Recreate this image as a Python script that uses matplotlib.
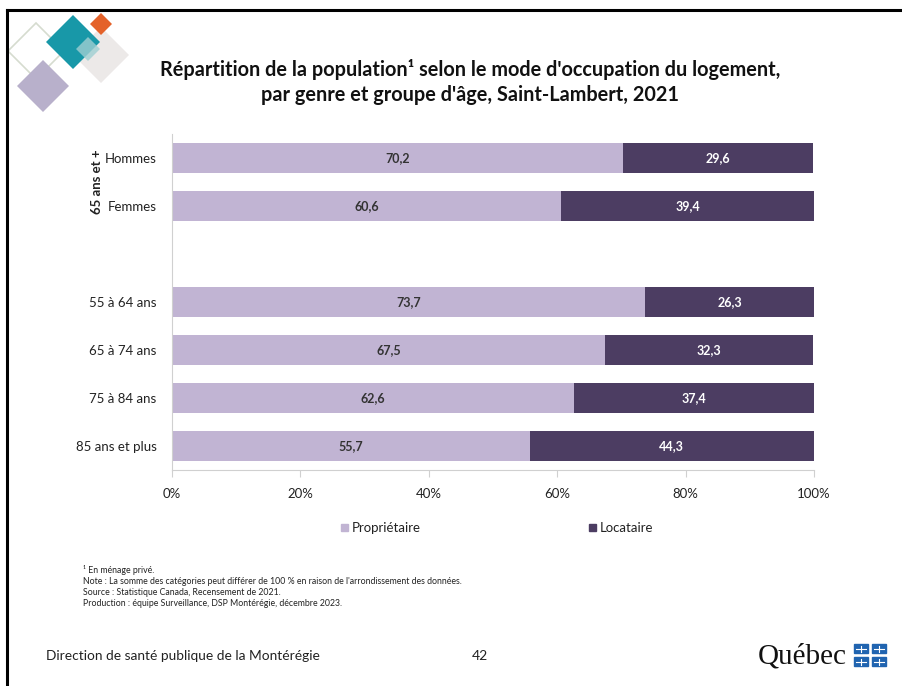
import numpy as np
import matplotlib
matplotlib.use("Agg")
import matplotlib.pyplot as plt
from matplotlib.patches import Polygon, Rectangle

plt.rcParams['font.family'] = ['Lato', 'DejaVu Sans']

# ------------------------------------------------------------------
# Data (top to bottom, blank slot between the two groups)
# ------------------------------------------------------------------
categories = ["Hommes", "Femmes", "", "55 à 64 ans", "65 à 74 ans", "75 à 84 ans", "85 ans et plus"]
proprietaire = [70.2, 60.6, np.nan, 73.7, 67.5, 62.6, 55.7]
locataire = [29.6, 39.4, np.nan, 26.3, 32.3, 37.4, 44.3]
xticks = [0, 20, 40, 60, 80, 100]
xtick_labels = ["0%", "20%", "40%", "60%", "80%", "100%"]

c_prop = "#C1B4D3"
c_loc = "#4C3D62"
grid_c = "#D0D0D0"

W, H = 902, 686
fig = plt.figure(figsize=(W / 100, H / 100), dpi=100)

# background layer in pixel coords
bg = fig.add_axes([0, 0, 1, 1])
bg.set_xlim(0, W)
bg.set_ylim(H, 0)
bg.axis("off")

# slide frame
bg.plot([7, 7], [10, H], color="black", lw=2.2)
bg.plot([7, W], [10, 10], color="black", lw=2.2)


def diamond(cx, cy, r, fc, ec="none", alpha=1.0, lw=0):
    bg.add_patch(Polygon([(cx, cy - r), (cx + r, cy), (cx, cy + r), (cx - r, cy)],
                         closed=True, fc=fc, ec=ec, alpha=alpha, lw=lw))


# logo diamonds
diamond(36, 51, 28, "none", ec="#D6DCCF", lw=1.2)
diamond(101, 55, 28, "#ECE9E8")
diamond(73, 42, 27, "#1898A8")
diamond(101, 24, 11, "#E4622A")
diamond(88, 49, 12, "#9FCFD2", alpha=0.8)
diamond(43, 86, 26, "#B8B0CB")

# title
fig.text(470 / W, 1 - 70 / H, "Répartition de la population¹ selon le mode d'occupation du logement,",
         ha="center", va="center", fontsize=14.3, fontweight="bold", color="#111111")
fig.text(470 / W, 1 - 95 / H, "par genre et groupe d'âge, Saint-Lambert, 2021",
         ha="center", va="center", fontsize=14.3, fontweight="bold", color="#111111")

# ------------------------------------------------------------------
# Chart
# ------------------------------------------------------------------
ax = fig.add_axes([172 / W, 1 - 470 / H, 642 / W, 336 / H])
y = np.arange(len(categories))
prop = np.array(proprietaire)
loc = np.array(locataire)
ax.barh(y, prop, height=0.62, color=c_prop)
ax.barh(y, loc, left=prop, height=0.62, color=c_loc)

for yi, p, l in zip(y, prop, loc):
    if np.isnan(p):
        continue
    ax.text(p / 2, yi, f"{p:.1f}".replace(".", ","), ha="center", va="center",
            fontsize=9, color="#333333", fontweight="bold")
    ax.text(p + l / 2, yi, f"{l:.1f}".replace(".", ","), ha="center", va="center",
            fontsize=9, color="white", fontweight="bold")

ax.set_xlim(0, 100)
ax.set_ylim(len(categories) - 0.5, -0.5)
ax.set_xticks(xticks)
ax.set_xticklabels(xtick_labels, fontsize=9.5, color="#222222")
ax.set_yticks(y)
ax.set_yticklabels(categories, fontsize=9.5, color="#222222")
ax.tick_params(axis="y", length=0, pad=11)
ax.tick_params(axis="x", length=5, color=grid_c, pad=8)
for s in ["top", "right"]:
    ax.spines[s].set_visible(False)
ax.spines["left"].set_color(grid_c)
ax.spines["bottom"].set_color(grid_c)

# group label
fig.text(97 / W, 1 - 182 / H, "65 ans et +", rotation=90, ha="center", va="center",
         fontsize=9.5, fontweight="bold", color="#222222")

# legend
bg.add_patch(Rectangle((341, 524), 7, 7, color=c_prop))
bg.text(352, 528, "Propriétaire", ha="left", va="center", fontsize=9.5, color="#222222")
bg.add_patch(Rectangle((589, 524), 7, 7, color=c_loc))
bg.text(600, 528, "Locataire", ha="left", va="center", fontsize=9.5, color="#222222")

# footnotes
notes = [
    "¹ En ménage privé.",
    "Note : La somme des catégories peut différer de 100 % en raison de l'arrondissement des données.",
    "Source : Statistique Canada, Recensement de 2021.",
    "Production : équipe Surveillance, DSP Montérégie, décembre 2023.",
]
for i, t in enumerate(notes):
    bg.text(83, 570 + i * 11.2, t, ha="left", va="center", fontsize=6.3, color="#222222")

# footer
bg.text(46, 656, "Direction de santé publique de la Montérégie", ha="left", va="center",
        fontsize=9.9, color="#222222")
bg.text(480, 656, "42", ha="center", va="center", fontsize=10, color="#222222")

# Québec signature
bg.text(847, 657, "Québec", ha="right", va="center", fontsize=21,
        family="Liberation Serif", color="#111111")
for fx in (854, 872):
    for fy in (644, 657):
        bg.add_patch(Rectangle((fx, fy), 14, 9, color="#2064B0"))
        bg.plot([fx + 7, fx + 7], [fy + 1.5, fy + 7.5], color="white", lw=0.8)
        bg.plot([fx + 2, fx + 12], [fy + 4.5, fy + 4.5], color="white", lw=0.8)

fig.savefig("out.png", dpi=100)
